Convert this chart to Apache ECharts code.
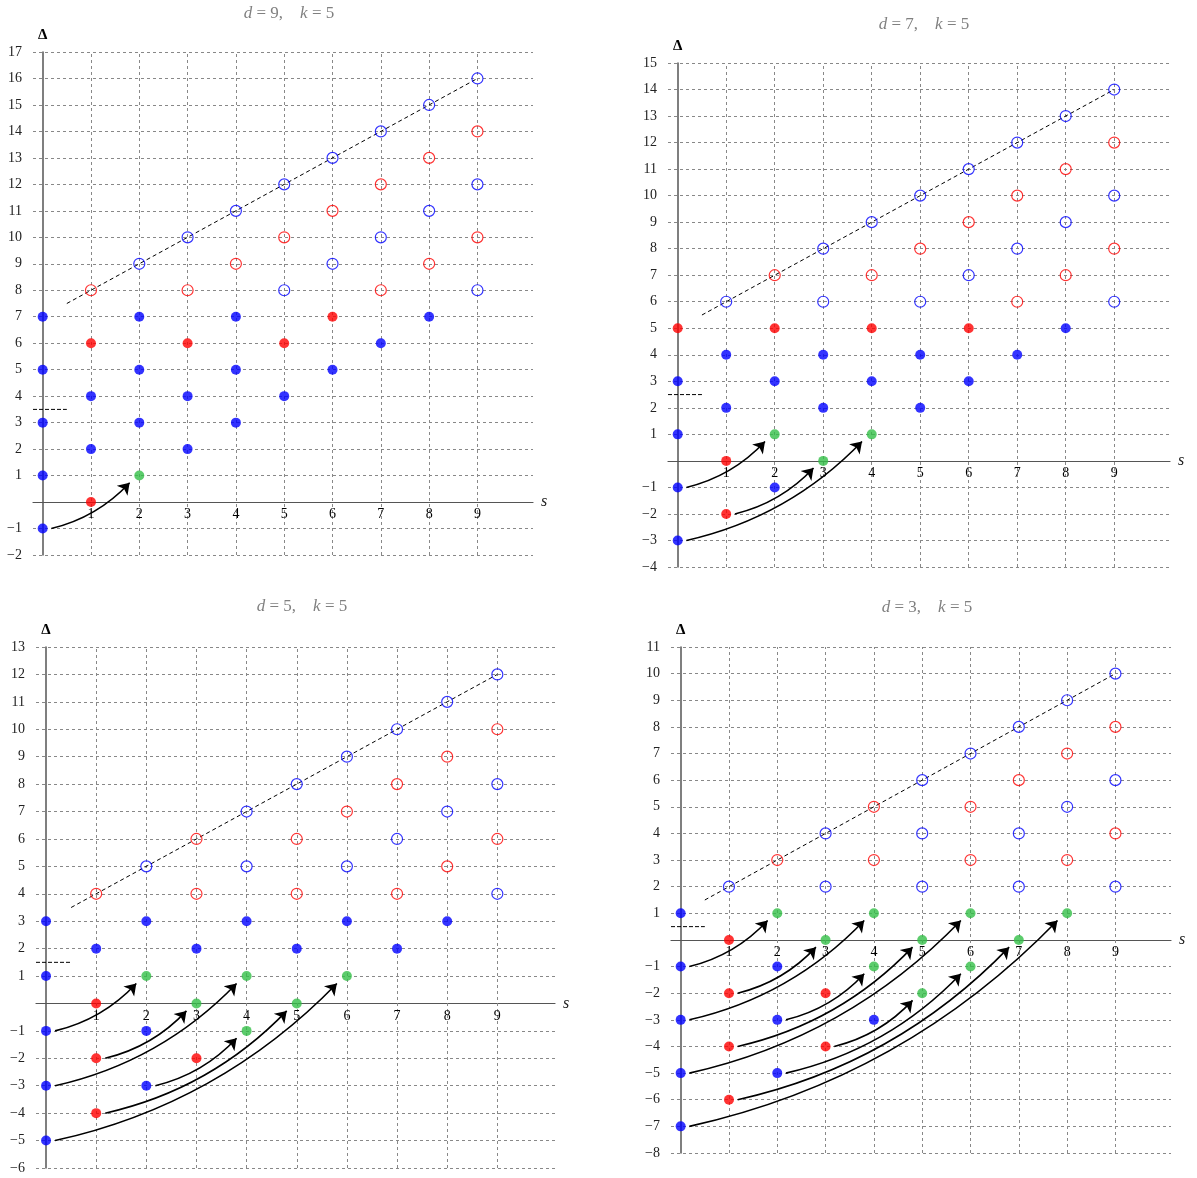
<!DOCTYPE html>
<html>
<head>
<meta charset="utf-8">
<script src="https://cdn.jsdelivr.net/npm/echarts@6/dist/echarts.min.js"></script>
<style>
  html, body { margin: 0; background: #fff; }
  #main { width: 1197px; height: 1178px; }
</style>
</head>
<body>
<div id="main"></div>
<script>
// ---- data ----
const kValue = 5;
const sTicks = [1, 2, 3, 4, 5, 6, 7, 8, 9];

// d = 9
const d9Range = [-2, 17];
const d9FilledBlue = [[0,7],[0,5],[0,3],[0,1],[0,-1],[1,4],[1,2],[2,7],[2,5],[2,3],[3,4],[3,2],[4,7],[4,5],[4,3],[5,4],[6,5],[7,6],[8,7]];
const d9FilledRed = [[1,6],[1,0],[3,6],[5,6],[6,7]];
const d9Green = [[2,1]];
const d9OpenBlue = [[2,9],[3,10],[4,11],[5,12],[6,13],[7,14],[8,15],[9,16],[5,8],[6,9],[7,10],[8,11],[9,12],[9,8]];
const d9OpenRed = [[1,8],[3,8],[4,9],[5,10],[6,11],[7,12],[8,13],[9,14],[7,8],[8,9],[9,10]];
const d9Arrows = [[[0,-1],[2,1]]];
const d9Diag = [[0.5,7.5],[9,16]];
const d9Threshold = [[-0.2,3.5],[0.5,3.5]];

// d = 7
const d7Range = [-4, 15];
const d7FilledBlue = [[0,3],[0,1],[0,-1],[0,-3],[1,4],[1,2],[2,3],[2,-1],[3,4],[3,2],[4,3],[5,4],[5,2],[6,3],[7,4],[8,5]];
const d7FilledRed = [[0,5],[2,5],[4,5],[6,5],[1,0],[1,-2]];
const d7Green = [[2,1],[4,1],[3,0]];
const d7OpenBlue = [[1,6],[3,8],[4,9],[5,10],[6,11],[7,12],[8,13],[9,14],[3,6],[5,6],[6,7],[7,8],[8,9],[9,10],[9,6]];
const d7OpenRed = [[2,7],[4,7],[5,8],[6,9],[7,10],[8,11],[9,12],[7,6],[8,7],[9,8]];
const d7Arrows = [[[0,-1],[2,1]], [[1,-2],[3,0]], [[0,-3],[4,1]]];
const d7Diag = [[0.5,5.5],[9,14]];
const d7Threshold = [[-0.2,2.5],[0.5,2.5]];

// d = 5
const d5Range = [-6, 13];
const d5FilledBlue = [[0,3],[2,3],[4,3],[6,3],[8,3],[1,2],[3,2],[5,2],[7,2],[0,1],[0,-1],[2,-1],[0,-3],[2,-3],[0,-5]];
const d5FilledRed = [[1,0],[1,-2],[3,-2],[1,-4]];
const d5Green = [[2,1],[4,1],[6,1],[3,0],[5,0],[4,-1]];
const d5OpenBlue = [[2,5],[4,7],[5,8],[6,9],[7,10],[8,11],[9,12],[4,5],[6,5],[7,6],[8,7],[9,8],[9,4]];
const d5OpenRed = [[1,4],[3,6],[3,4],[5,4],[7,4],[5,6],[6,7],[7,8],[8,9],[9,10],[8,5],[9,6]];
const d5Arrows = [[[0,-1],[2,1]], [[1,-2],[3,0]], [[0,-3],[4,1]], [[2,-3],[4,-1]], [[1,-4],[5,0]], [[0,-5],[6,1]]];
const d5Diag = [[0.5,3.5],[9,12]];
const d5Threshold = [[-0.2,1.5],[0.5,1.5]];

// d = 3
const d3Range = [-8, 11];
const d3FilledBlue = [[0,1],[0,-1],[2,-1],[0,-3],[2,-3],[4,-3],[0,-5],[2,-5],[0,-7]];
const d3FilledRed = [[1,0],[1,-2],[3,-2],[1,-4],[3,-4],[1,-6]];
const d3Green = [[2,1],[4,1],[6,1],[8,1],[3,0],[5,0],[7,0],[4,-1],[6,-1],[5,-2]];
const d3OpenBlue = [[1,2],[3,4],[5,6],[6,7],[7,8],[8,9],[9,10],[3,2],[5,2],[7,2],[9,2],[5,4],[7,4],[8,5],[9,6]];
const d3OpenRed = [[2,3],[4,5],[4,3],[6,3],[8,3],[6,5],[7,6],[8,7],[9,8],[9,4]];
const d3Arrows = [[[0,-1],[2,1]], [[1,-2],[3,0]], [[0,-3],[4,1]], [[2,-3],[4,-1]], [[1,-4],[5,0]], [[0,-5],[6,1]],
                  [[3,-4],[5,-2]], [[2,-5],[6,-1]], [[1,-6],[7,0]], [[0,-7],[8,1]]];
const d3Diag = [[0.5,1.5],[9,10]];
const d3Threshold = [[-0.2,0.5],[0.5,0.5]];

const panels = [
  { d: 9, range: d9Range, blue: d9FilledBlue, red: d9FilledRed, green: d9Green, oBlue: d9OpenBlue, oRed: d9OpenRed, arrows: d9Arrows, diag: d9Diag, thr: d9Threshold },
  { d: 7, range: d7Range, blue: d7FilledBlue, red: d7FilledRed, green: d7Green, oBlue: d7OpenBlue, oRed: d7OpenRed, arrows: d7Arrows, diag: d7Diag, thr: d7Threshold },
  { d: 5, range: d5Range, blue: d5FilledBlue, red: d5FilledRed, green: d5Green, oBlue: d5OpenBlue, oRed: d5OpenRed, arrows: d5Arrows, diag: d5Diag, thr: d5Threshold },
  { d: 3, range: d3Range, blue: d3FilledBlue, red: d3FilledRed, green: d3Green, oBlue: d3OpenBlue, oRed: d3OpenRed, arrows: d3Arrows, diag: d3Diag, thr: d3Threshold }
];

// ---- layout (pixels) ----
const layout = [
  { left: 33, top: 52, width: 500, height: 503, titleX: 284, titleY: 0 },
  { left: 668, top: 63, width: 502, height: 504, titleX: 919, titleY: 11 },
  { left: 36, top: 647, width: 519, height: 521, titleX: 297, titleY: 593 },
  { left: 671, top: 647, width: 500, height: 506, titleX: 922, titleY: 594 }
];

const serif = '"Liberation Serif", "DejaVu Serif", serif';
const BLUE = '#0000ff', RED = '#ff0000', GREEN = '#33bf47';

const chart = echarts.init(document.getElementById('main'));
const option = { animation: false, title: [], grid: [], xAxis: [], yAxis: [], series: [] };

function fmtNum(v) {
  if (v === 0) return '';
  return v < 0 ? '\u2212' + (-v) : String(v);
}

panels.forEach((p, i) => {
  const L = layout[i];
  option.title.push({
    text: '{i|d} = ' + p.d + ',    {i|k} = ' + kValue,
    left: L.titleX, top: L.titleY, textAlign: 'center',
    textStyle: {
      fontFamily: serif, fontSize: 17, fontWeight: 'normal', color: '#808080',
      rich: { i: { fontFamily: serif, fontSize: 17, fontStyle: 'italic', color: '#808080' } }
    }
  });
  option.grid.push({ left: L.left, top: L.top, width: L.width, height: L.height, outerBoundsMode: 'none', containLabel: false });
  option.xAxis.push({
    gridIndex: i, type: 'value', min: -0.2, max: 10.15,
    axisLine: { onZero: true, lineStyle: { color: '#555', width: 1.2 } },
    axisTick: { show: false },
    splitLine: { show: false },
    axisLabel: { show: false },
    name: 's', nameLocation: 'end', nameGap: 8,
    nameTextStyle: { fontFamily: serif, fontStyle: 'italic', fontSize: 16, color: '#222' }
  });
  option.yAxis.push({
    gridIndex: i, type: 'value', min: p.range[0], max: p.range[1], interval: 1,
    axisLine: { show: true, onZero: true, lineStyle: { color: '#555', width: 1.5 } },
    axisTick: { show: false },
    splitLine: { show: true, lineStyle: { type: [3, 3], color: '#888', width: 1 } },
    axisLabel: { formatter: fmtNum, margin: 11, fontFamily: serif, fontSize: 14, color: '#222' },
    name: 'Δ', nameLocation: 'end', nameGap: 9,
    nameTextStyle: { fontFamily: serif, fontWeight: 'bold', fontSize: 15, color: '#000', align: 'center' }
  });

  const ax = { xAxisIndex: i, yAxisIndex: i };
  // diagonal dashed line, carries the vertical grid lines
  option.series.push(Object.assign({
    type: 'line', data: p.diag, symbol: 'none', silent: true, z: 2,
    lineStyle: { color: '#000', width: 1, type: [4, 3] },
    markLine: {
      silent: true, z: 1, symbol: ['none', 'none'], label: { show: false }, animation: false,
      lineStyle: { type: [3, 3], color: '#888', width: 1 },
      data: sTicks.map(v => ({ xAxis: v }))
    }
  }, ax));
  option.series.push(Object.assign({
    type: 'line', data: p.thr, symbol: 'none', silent: true, z: 2,
    lineStyle: { color: '#000', width: 1, type: [4, 2] }
  }, ax));
  // s tick labels sitting under the s axis at Δ = 0
  option.series.push(Object.assign({
    type: 'scatter', data: sTicks.map(s => [s, 0]), silent: true, z: 2,
    symbolSize: 1, itemStyle: { color: 'rgba(0,0,0,0)' },
    label: { show: true, position: 'bottom', distance: 5, formatter: q => q.value[0],
             fontFamily: serif, fontSize: 14, color: '#000', opacity: 1 }
  }, ax));
  option.series.push(Object.assign({
    type: 'lines', coordinateSystem: 'cartesian2d', silent: true, z: 3,
    symbol: ['none', 'arrow'], symbolSize: 11,
    lineStyle: { color: '#000', width: 1.6, curveness: -0.15, opacity: 1 },
    data: p.arrows.map(a => ({ coords: [[a[0][0] + 0.18, a[0][1]], [a[1][0] - 0.2, a[1][1] - 0.27]] }))
  }, ax));
  const dots = [
    [p.blue, BLUE, true], [p.red, RED, true], [p.green, GREEN, true],
    [p.oBlue, BLUE, false], [p.oRed, RED, false]
  ];
  dots.forEach(([data, color, filled]) => {
    option.series.push(Object.assign({
      type: 'scatter', data: data, silent: true, z: 4,
      symbol: 'circle', symbolSize: filled ? 10 : 11,
      itemStyle: filled ? { color: color } : { color: 'rgba(0,0,0,0)', borderColor: color, borderWidth: 1.2 }
    }, ax));
  });
});

chart.setOption(option);
</script>
</body>
</html>
